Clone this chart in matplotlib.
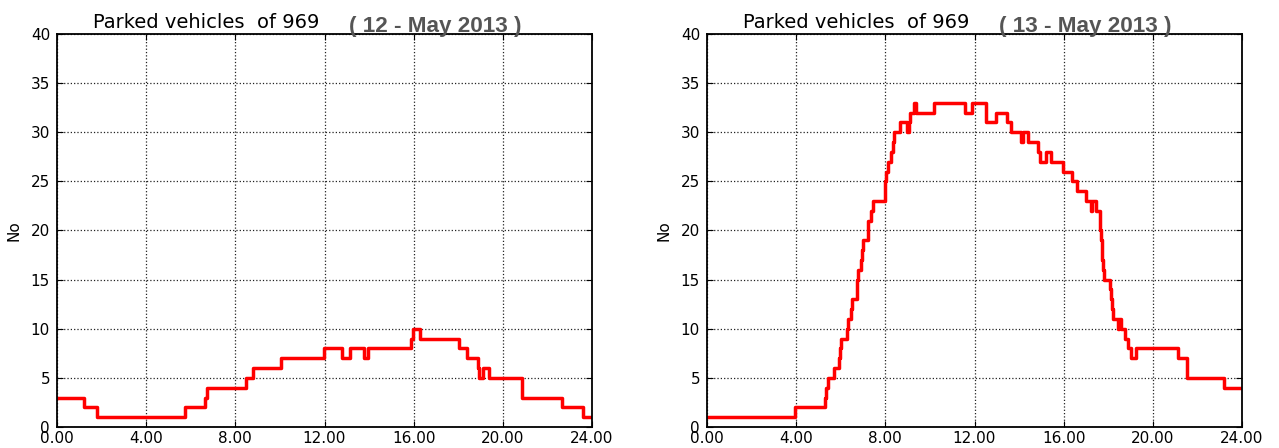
import matplotlib

matplotlib.use("Agg")
import matplotlib.pyplot as plt
from matplotlib.ticker import FormatStrFormatter, MultipleLocator

# change points of the parked-vehicle count (hour of day, vehicles from that hour on)
hours_12 = [0, 1.23, 1.79, 5.76, 6.62, 6.72, 8.48, 8.8, 10.05, 11.98, 12.8, 13.15,
            13.76, 13.95, 15.87, 15.98, 16.27, 18.03, 18.38, 18.88, 18.94, 19.1,
            19.39, 20.88, 22.67, 23.6, 24]
parked_12 = [3, 2, 1, 2, 3, 4, 5, 6, 7, 8, 7, 8,
             7, 8, 9, 10, 9, 8, 7, 6, 5, 6,
             5, 3, 2, 1, 1]

hours_13 = [0, 3.93, 5.31, 5.36, 5.41, 5.71, 5.93, 5.96, 6.0, 6.28, 6.32, 6.45,
            6.49, 6.72, 6.74, 6.77, 6.93, 6.95, 6.98, 7.2, 7.22, 7.35, 7.44, 7.97,
            8.0, 8.03, 8.14, 8.26, 8.33, 8.4, 8.66, 8.99, 9.08, 9.12, 9.27, 9.37,
            10.18, 11.59, 11.91, 12.52, 12.95, 13.47, 13.63, 14.1, 14.16, 14.4,
            14.84, 14.96, 15.19, 15.41, 15.96, 16.36, 16.62, 16.99, 17.21, 17.28,
            17.44, 17.61, 17.64, 17.67, 17.7, 17.74, 17.78, 17.82, 18.07, 18.11,
            18.16, 18.22, 18.43, 18.5, 18.57, 18.73, 18.87, 19.01, 19.24, 21.11,
            21.54, 23.21, 24]
parked_13 = [1, 2, 3, 4, 5, 6, 7, 8, 9, 10, 11, 12,
             13, 14, 15, 16, 17, 18, 19, 20, 21, 22, 23, 24,
             25, 26, 27, 28, 29, 30, 31, 30, 31, 32, 33, 32,
             33, 32, 33, 31, 32, 31, 30, 29, 30, 29,
             28, 27, 28, 27, 26, 25, 24, 23, 22, 23,
             22, 21, 20, 19, 18, 17, 16, 15, 14, 13,
             12, 11, 10, 11, 10, 9, 8, 7, 8, 7,
             5, 4, 4]

title = "Parked vehicles  of 969"
date_labels = ["( 12 - May 2013 )", "( 13 - May 2013 )"]

W, H = 1279, 448


def draw_day(ax, hours, counts, date_label):
    ax.plot(hours, counts, drawstyle="steps-post", color="red", linewidth=2.5)
    ax.set_xlim(0, 24)
    ax.set_ylim(0, 40)
    ax.xaxis.set_major_locator(MultipleLocator(4))
    ax.xaxis.set_major_formatter(FormatStrFormatter("%.2f"))
    ax.yaxis.set_major_locator(MultipleLocator(5))
    ax.grid(True, color="#222222", linestyle=":", linewidth=0.9)
    ax.tick_params(direction="in", top=True, right=True, labelsize=11, length=4)
    ax.tick_params(axis="y", pad=5)
    ax.tick_params(axis="x", pad=3)
    for spine in ax.spines.values():
        spine.set_linewidth(1.3)
    ax.set_ylabel("No", fontsize=11)
    ax.yaxis.set_label_coords(-0.066, 0.5)
    ax.text(0.067, 1.015, title, transform=ax.transAxes, fontsize=14,
            ha="left", va="baseline")
    ax.text(0.546, 1.005, date_label, transform=ax.transAxes, fontsize=16.2,
            fontweight="bold", color="#555555", ha="left", va="baseline",
            family=["Liberation Sans", "DejaVu Sans"])


fig = plt.figure(figsize=(W / 100, H / 100), dpi=100)
ax_left = fig.add_axes([57 / W, 21 / H, 535 / W, 393 / H])
ax_right = fig.add_axes([707 / W, 21 / H, 535 / W, 393 / H])

draw_day(ax_left, hours_12, parked_12, date_labels[0])
draw_day(ax_right, hours_13, parked_13, date_labels[1])

fig.savefig("out.png", dpi=100)
